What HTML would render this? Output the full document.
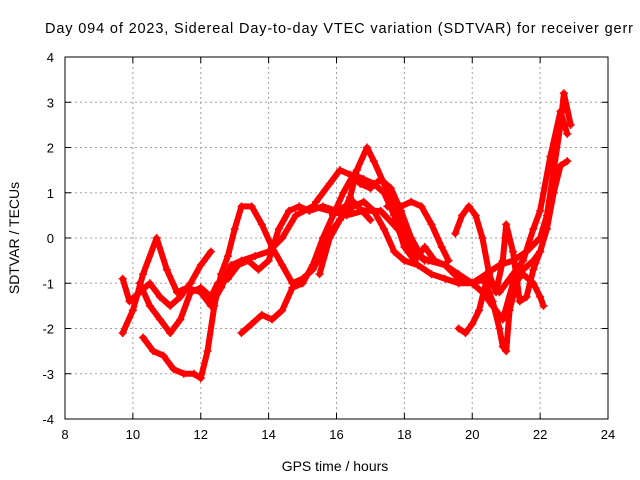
<!DOCTYPE html>
<html><head><meta charset="utf-8"><style>
body{margin:0;background:#fff}
svg{display:block;font-family:"Liberation Sans",sans-serif}
</style></head><body>
<svg id="c" width="640" height="480" viewBox="0 0 640 480">
<text x="45" y="33" font-size="14.5" textLength="588" lengthAdjust="spacing" fill="#000">Day 094 of 2023, Sidereal Day-to-day VTEC variation (SDTVAR) for receiver gerr</text>
<g id="grid"></g><g id="marks"></g><g id="axes"></g>
<text x="335" y="471" font-size="14" text-anchor="middle">GPS time / hours</text>
<text transform="translate(19,238) rotate(-90)" font-size="14" text-anchor="middle">SDTVAR / TECUs</text>
</svg>
<script>
const xTicks=[8,10,12,14,16,18,20,22,24];
const yTicks=[-4,-3,-2,-1,0,1,2,3,4];
const sA=[[9.7,-2.1],[10.0,-1.6],[10.3,-0.8],[10.7,0],[11.0,-0.7],[11.3,-1.2],[11.6,-1.1],[12.0,-1.2],[12.3,-1.5],[12.6,-1.1],[12.9,-0.6],[13.2,-0.5],[13.6,-0.4],[14.0,-0.3],[14.4,0],[14.8,0.5],[15.3,0.7],[15.8,0.6],[16.3,0.5],[16.8,0.6],[17.3,0.6],[17.8,0.2],[18.2,-0.3],[18.7,-0.5],[19.2,-0.6],[19.6,-0.9],[20.0,-1.0],[20.4,-0.8],[20.8,-0.6],[21.2,-0.5],[21.6,-0.3],[22.0,0.0],[22.2,0.5],[22.4,1.5],[22.6,2.5],[22.7,3.2],[22.9,2.5]];
const sB=[[9.7,-0.9],[9.9,-1.4],[10.2,-1.2],[10.5,-1.0],[10.8,-1.3],[11.1,-1.5],[11.4,-1.3],[11.7,-1.0],[12.0,-0.6],[12.3,-0.3]];
const sC=[[10.2,-1.0],[10.5,-1.5],[10.8,-1.8],[11.1,-2.1],[11.4,-1.8],[11.7,-1.2],[12.0,-1.1],[12.3,-1.3],[12.5,-1.0],[12.8,-0.9],[13.1,-0.6],[13.4,-0.5],[13.7,-0.7],[14.0,-0.5],[14.3,0.2],[14.6,0.6],[14.9,0.7],[15.2,0.6],[15.6,0.7],[16.0,0.6],[16.5,0.8],[17.0,0.4]];
const sD=[[10.3,-2.2],[10.6,-2.5],[10.9,-2.6],[11.2,-2.9],[11.5,-3.0],[11.8,-3.0],[12.0,-3.1],[12.2,-2.5],[12.4,-1.5],[12.6,-0.8],[12.8,-0.4],[13.0,0.2],[13.2,0.7],[13.5,0.7],[13.8,0.3],[14.1,-0.2],[14.4,-0.6],[14.7,-1.0],[15.0,-0.9],[15.3,-0.7],[15.6,-0.3],[15.9,0.2],[16.2,0.5],[16.5,0.7],[16.8,0.8],[17.1,0.6],[17.4,0.2],[17.7,-0.3],[18.0,-0.5],[18.4,-0.6],[18.8,-0.8],[19.2,-0.9],[19.6,-1.0],[20.0,-1.0],[20.3,-1.2],[20.6,-1.5],[20.9,-1.8],[21.2,-1.0],[21.5,-0.8],[21.8,-1.0],[22.0,-1.3],[22.1,-1.5]];
const sE=[[13.2,-2.1],[13.5,-1.9],[13.8,-1.7],[14.1,-1.8],[14.4,-1.6],[14.7,-1.1],[15.0,-1.0],[15.3,-0.6],[15.6,0.0],[15.9,0.5],[16.2,1.0],[16.5,1.4],[16.8,1.3],[17.1,1.2],[17.4,1.0],[17.7,0.5],[18.0,-0.2],[18.3,-0.5],[18.6,-0.2],[18.9,-0.5],[19.2,-0.6],[19.6,-0.8],[20.0,-1.0],[20.4,-0.9],[20.8,-1.2],[21.2,-0.8],[21.5,-0.5],[21.8,0.2],[22.0,0.6],[22.3,1.8],[22.6,2.8],[22.8,2.3]];
const sF=[[15.5,-0.8],[15.8,0.0],[16.1,0.4],[16.4,0.9],[16.6,1.5],[16.9,2.0],[17.1,1.7],[17.4,1.2],[17.7,0.7],[18.0,0.1],[18.3,-0.3],[18.6,-0.5]];
const sG=[[15.4,0.8],[15.8,1.2],[16.1,1.5],[16.4,1.4],[16.7,1.2],[17.0,1.1],[17.3,1.3],[17.6,1.1],[17.9,0.6],[18.2,0.0],[18.5,-0.4]];
const sH=[[17.5,0.7],[17.9,0.7],[18.2,0.8],[18.5,0.7],[18.8,0.3],[19.1,-0.2],[19.3,-0.5]];
const sI=[[19.5,0.1],[19.7,0.5],[19.9,0.7],[20.1,0.5],[20.3,0.0],[20.5,-0.8],[20.7,-1.2],[20.9,-0.5],[21.0,0.3],[21.2,-0.3],[21.4,-1.4],[21.6,-1.3],[21.8,-0.7],[22.0,-0.3]];
const sJ=[[19.6,-2.0],[19.8,-2.1],[20.0,-1.9],[20.2,-1.6],[20.4,-1.0],[20.6,-1.4],[20.8,-2.0],[20.9,-2.4],[21.0,-2.5],[21.1,-1.6],[21.3,-1.0],[21.5,-0.7],[21.8,-0.5],[22.0,-0.3],[22.2,0.2],[22.4,1.0],[22.6,1.6],[22.8,1.7]];
const series=[sA,sB,sC,sD,sE,sF,sG,sH,sI,sJ];
const L=65,R=608,T=57,B=419;
const xs=v=>L+(v-8)/16*(R-L), ys=v=>B-(v+4)/8*(B-T);
const NS="http://www.w3.org/2000/svg";
function mk(t,a,p){const e=document.createElementNS(NS,t);for(const k in a)e.setAttribute(k,a[k]);p.appendChild(e);return e;}
const grid=document.getElementById('grid'),axes=document.getElementById('axes'),marks=document.getElementById('marks');
xTicks.forEach(v=>{const x=xs(v);
 if(v>8&&v<24){const g=mk('line',{x1:x,x2:x,y1:T,y2:B,stroke:'#a0a0a0','stroke-dasharray':'2,3'},grid);
 }
 const t=mk('text',{x:x,y:B+20,'font-size':13,'text-anchor':'middle'},axes);t.textContent=v;
 
 mk('line',{x1:x,x2:x,y1:B,y2:B-6,stroke:'#000'},axes);mk('line',{x1:x,x2:x,y1:T,y2:T+6,stroke:'#000'},axes);});
yTicks.forEach(v=>{const y=ys(v);
 if(v>-4&&v<4){const g=mk('line',{x1:L,x2:R,y1:y,y2:y,stroke:'#a0a0a0','stroke-dasharray':'2,3'},grid);
 }
 const t=mk('text',{x:L-11,y:y+5,'font-size':13,'text-anchor':'end'},axes);t.textContent=v;
 
 mk('line',{x1:L,x2:L+6,y1:y,y2:y,stroke:'#000'},axes);mk('line',{x1:R,x2:R-6,y1:y,y2:y,stroke:'#000'},axes);});
const fr=mk('rect',{x:L,y:T,width:R-L,height:B-T,fill:'none',stroke:'#000'},axes);

series.forEach((s,i)=>{
 const pl=mk('polyline',{points:s.map(p=>xs(p[0])+','+ys(p[1])).join(' '),fill:'none',stroke:'#ff0000','stroke-width':6,'stroke-linejoin':'round','stroke-linecap':'round'},marks);
 
 
 s.forEach(p=>{const x=xs(p[0]),y=ys(p[1]);
  const m=mk('path',{d:`M${x-4},${y}h8M${x},${y-4}v8`,stroke:'#ff0000','stroke-width':1.5},marks);
  
  });
});
</script>
</body></html>
